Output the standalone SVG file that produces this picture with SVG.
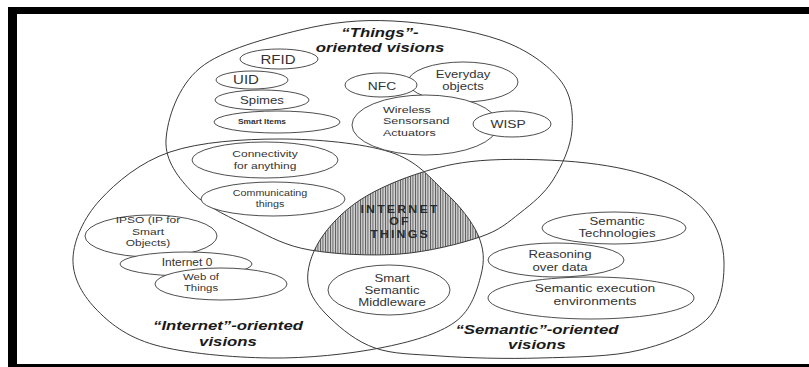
<svg xmlns="http://www.w3.org/2000/svg" width="809" height="367" viewBox="0 0 809 367">
<defs>
<style>
.region { fill: none; stroke: #3a3a3a; stroke-width: 1; }
.node ellipse { fill: #fff; stroke: #3a3a3a; stroke-width: 0.9; }
.lbl { font-family: "Liberation Sans", Arial, sans-serif; fill: #333; text-anchor: middle; }
.hdr { font-family: "Liberation Sans", Arial, sans-serif; font-weight: bold; font-style: italic; fill: #1a1a1a; text-anchor: middle; font-size: 13px; }
.iot { font-family: "Liberation Sans", Arial, sans-serif; font-weight: bold; fill: #2a2a2a; text-anchor: middle; font-size: 10.3px; letter-spacing: 1.8px; }
.frame { fill: #000; }
</style>
<pattern id="hatch" width="2.5" height="3" patternUnits="userSpaceOnUse">
<rect width="2.5" height="3" fill="#d2d2d2"/>
<rect width="0.9" height="3" fill="#555"/>
</pattern>
<path id="pThings" d="M166,140 C167.2,119.2 177.7,86.3 200,68 C222.3,49.7 267.8,37.8 300,30 C332.2,22.2 359.7,19.3 393,21 C426.3,22.7 472.2,30.2 500,40 C527.8,49.8 548,65 560,80 C572,95 573.2,113.3 572,130 C570.8,146.7 561.7,166.2 553,180 C544.3,193.8 532.2,203.5 520,213 C507.8,222.5 500,230.2 480,237 C460,243.8 428.3,251.8 400,254 C371.7,256.2 334.7,254.3 310,250 C285.3,245.7 271.5,237.5 252,228 C232.5,218.5 207.3,207.7 193,193 C178.7,178.3 164.8,160.8 166,140 Z"/>
<path id="pInternet" d="M280,139 C316.7,139 362.5,143.2 390,152 C417.5,160.8 430.3,178.2 445,192 C459.7,205.8 472,221.2 478,235 C484,248.8 484.8,260.5 481,275 C477.2,289.5 471.8,309.8 455,322 C438.2,334.2 410.8,342 380,348 C349.2,354 307.5,358.5 270,358 C232.5,357.5 184.2,353.3 155,345 C125.8,336.7 108.7,322.5 95,308 C81.3,293.5 72.2,276 73,258 C73.8,240 83.8,217.7 100,200 C116.2,182.3 140,162.2 170,152 C200,141.8 243.3,139 280,139 Z"/>
<path id="pSemantic" d="M423,172 C444.7,165.3 462.7,161.5 490,160 C517.3,158.5 558.7,159.7 587,163 C615.3,166.3 640,171.7 660,180 C680,188.3 696.3,199.3 707,213 C717.7,226.7 723.8,244.5 724,262 C724.2,279.5 722,303.3 708,318 C694,332.7 668,343 640,350 C612,357 573.3,357 540,358 C506.7,359 467.5,358 440,356 C412.5,354 393.3,354.3 375,348 C356.7,341.7 341.2,328.8 330,318 C318.8,307.2 309.7,296 308,283 C306.3,270 311.3,253.8 320,240 C328.7,226.2 342.8,211.3 360,200 C377.2,188.7 401.3,178.7 423,172 Z"/>
<clipPath id="clipThings"><use href="#pThings"/></clipPath>
<clipPath id="clipInternet"><use href="#pInternet"/></clipPath>
</defs>
<rect width="809" height="367" fill="#fff"/>

<g id="iot-intersection">
<g clip-path="url(#clipThings)"><g clip-path="url(#clipInternet)"><use href="#pSemantic" fill="url(#hatch)"/></g></g>
<text class="iot" transform="translate(400 0) scale(1.2 1)"><tspan x="0" y="213">INTERNET</tspan><tspan x="0" y="225.3">OF</tspan><tspan x="0" y="237.6">THINGS</tspan></text>
</g>

<g id="things-vision">
<use href="#pThings" class="region"/>
<text class="hdr" transform="translate(380 0) scale(1.29 1)"><tspan x="0" y="37">“Things”-</tspan><tspan x="0" y="52.5">oriented visions</tspan></text>
</g>
<g id="internet-vision">
<use href="#pInternet" class="region"/>
<text class="hdr" transform="translate(228 0) scale(1.29 1)"><tspan x="0" y="330">“Internet”-oriented</tspan><tspan x="0" y="346">visions</tspan></text>
</g>
<g id="semantic-vision">
<use href="#pSemantic" class="region"/>
<text class="hdr" transform="translate(537 0) scale(1.29 1)"><tspan x="0" y="334">“Semantic”-oriented</tspan><tspan x="0" y="349.5">visions</tspan></text>
</g>

<g id="rfid" class="node"><ellipse cx="279" cy="59" rx="39" ry="10"/><text class="lbl" font-size="12.5" transform="translate(278 0) scale(1.2 1)"><tspan x="0" y="64">RFID</tspan></text></g>
<g id="uid" class="node"><ellipse cx="252" cy="80" rx="36" ry="9"/><text class="lbl" font-size="12.5" transform="translate(246 0) scale(1.2 1)"><tspan x="0" y="84.5">UID</tspan></text></g>
<g id="spimes" class="node"><ellipse cx="262" cy="100" rx="47" ry="10"/><text class="lbl" font-size="11" transform="translate(262 0) scale(1.2 1)"><tspan x="0" y="104">Spimes</tspan></text></g>
<g id="smart-items" class="node"><ellipse cx="277" cy="122" rx="63" ry="11"/><text class="lbl" font-size="7" font-weight="bold" transform="translate(262 0) scale(1.2 1)"><tspan x="0" y="124">Smart Items</tspan></text></g>
<g id="everyday-objects" class="node"><ellipse cx="463" cy="82" rx="55" ry="20"/><text class="lbl" font-size="10.5" transform="translate(463 0) scale(1.25 1)"><tspan x="0" y="78">Everyday</tspan><tspan x="0" y="90.3">objects</tspan></text></g>
<g id="nfc" class="node"><ellipse cx="381" cy="85" rx="36" ry="12"/><text class="lbl" font-size="11.5" transform="translate(382 0) scale(1.2 1)"><tspan x="0" y="90">NFC</tspan></text></g>
<g id="wireless-sensors" class="node"><ellipse cx="425" cy="125" rx="73" ry="30"/><text class="lbl" font-size="9.6" style="text-anchor:start" transform="translate(383 0) scale(1.3 1)"><tspan x="0" y="113">Wireless</tspan><tspan x="0" y="124.3">Sensorsand</tspan><tspan x="0" y="135.6">Actuators</tspan></text></g>
<g id="wisp" class="node"><ellipse cx="512" cy="124" rx="39" ry="13"/><text class="lbl" font-size="11.5" transform="translate(508 0) scale(1.2 1)"><tspan x="0" y="128">WISP</tspan></text></g>

<g id="connectivity" class="node"><ellipse cx="265" cy="160" rx="73" ry="18"/><text class="lbl" font-size="9.6" transform="translate(265 0) scale(1.25 1)"><tspan x="0" y="157.5">Connectivity</tspan><tspan x="0" y="168.8">for anything</tspan></text></g>
<g id="communicating" class="node"><ellipse cx="273" cy="199" rx="72" ry="17"/><text class="lbl" font-size="8.8" transform="translate(270 0) scale(1.22 1)"><tspan x="0" y="196.5">Communicating</tspan><tspan x="0" y="207">things</tspan></text></g>
<g id="ipso" class="node"><ellipse cx="151" cy="236" rx="66" ry="21"/><text class="lbl" font-size="9.6" transform="translate(148 0) scale(1.25 1)"><tspan x="0" y="223.5">IPSO (IP for</tspan><tspan x="0" y="234.8">Smart</tspan><tspan x="0" y="246.1">Objects)</tspan></text></g>
<g id="internet-0" class="node"><ellipse cx="186" cy="264" rx="66" ry="12"/><text class="lbl" font-size="10" transform="translate(187 0) scale(1.2 1)"><tspan x="0" y="266">Internet 0</tspan></text></g>
<g id="web-of-things" class="node"><ellipse cx="221" cy="284" rx="66" ry="16"/><text class="lbl" font-size="9.2" transform="translate(201 0) scale(1.24 1)"><tspan x="0" y="280">Web of</tspan><tspan x="0" y="290.8">Things</tspan></text></g>

<g id="smart-semantic-middleware" class="node"><ellipse cx="389" cy="290" rx="61" ry="25"/><text class="lbl" font-size="10.4" transform="translate(392 0) scale(1.27 1)"><tspan x="0" y="282">Smart</tspan><tspan x="0" y="294.2">Semantic</tspan><tspan x="0" y="306.4">Middleware</tspan></text></g>
<g id="semantic-technologies" class="node"><ellipse cx="614" cy="228" rx="72" ry="16"/><text class="lbl" font-size="10.4" transform="translate(617 0) scale(1.27 1)"><tspan x="0" y="225.3">Semantic</tspan><tspan x="0" y="237.5">Technologies</tspan></text></g>
<g id="reasoning" class="node"><ellipse cx="556" cy="260" rx="68" ry="17"/><text class="lbl" font-size="10.4" transform="translate(560 0) scale(1.27 1)"><tspan x="0" y="258.5">Reasoning</tspan><tspan x="0" y="270.7">over data</tspan></text></g>
<g id="semantic-execution" class="node"><ellipse cx="591" cy="298" rx="103" ry="21"/><text class="lbl" font-size="10.8" transform="translate(595 0) scale(1.28 1)"><tspan x="0" y="292">Semantic execution</tspan><tspan x="0" y="304.7">environments</tspan></text></g>

<g id="frame">
<rect class="frame" x="8" y="7" width="801" height="7"/>
<rect class="frame" x="8" y="7" width="9" height="360"/>
<rect class="frame" x="8" y="364" width="801" height="3"/>
</g>
</svg>
